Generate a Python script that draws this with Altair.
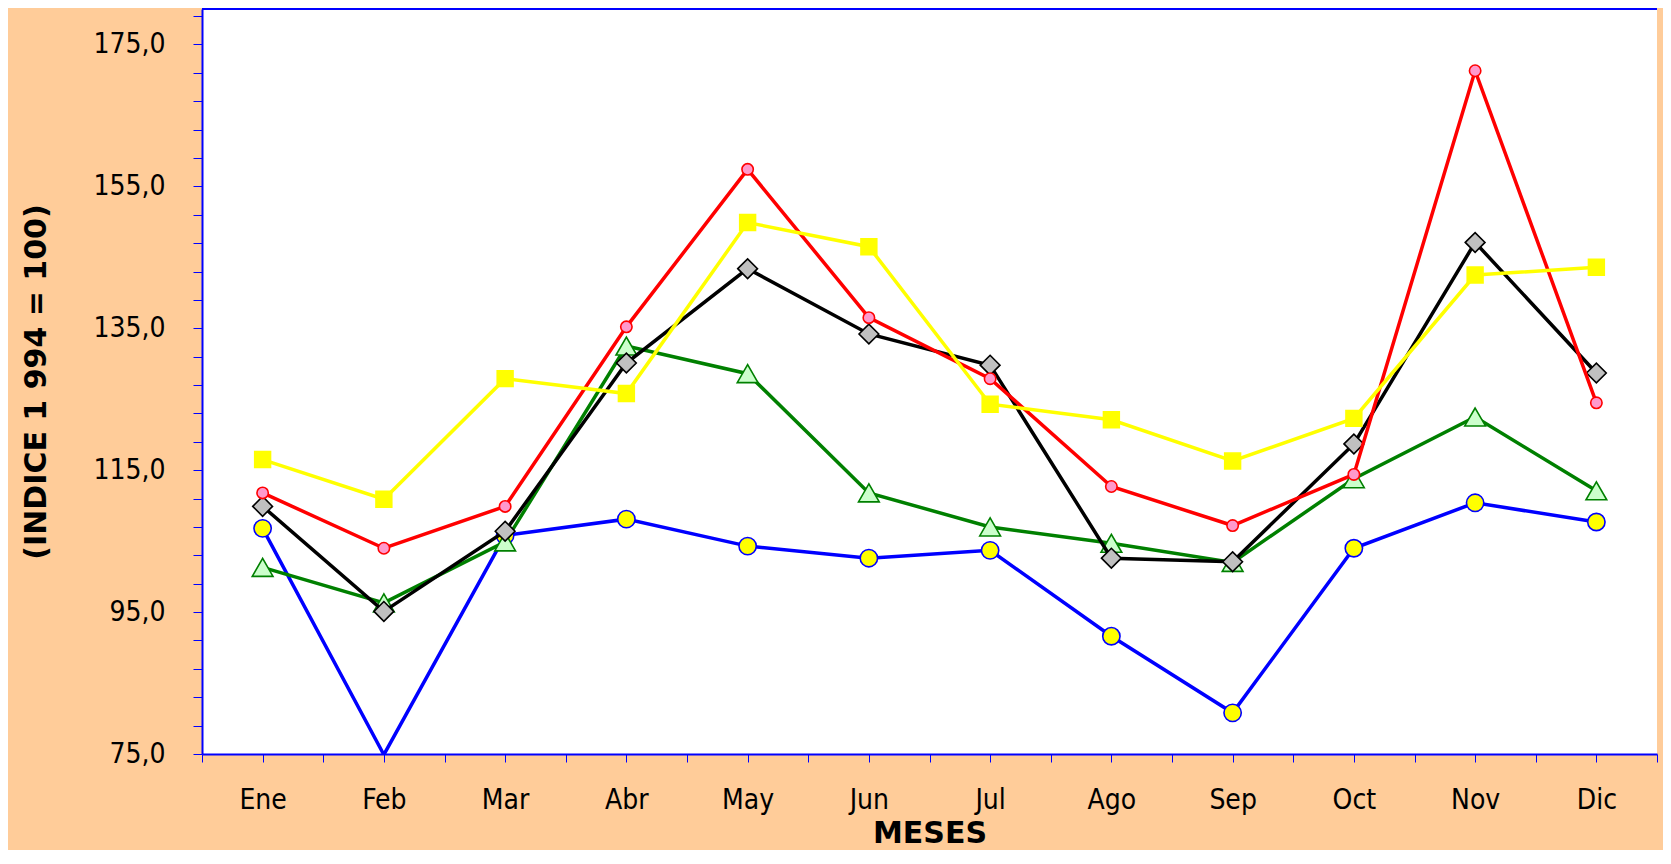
import json
import altair as alt
import pandas as pd

meses = ["Ene", "Feb", "Mar", "Abr", "May", "Jun", "Jul", "Ago", "Sep", "Oct", "Nov", "Dic"]

serie_azul = [106.8, 74.9, 105.8, 108.1, 104.3, 102.6, 103.7, 91.6, 80.8, 104.0, 110.4, 107.7]
serie_verde = [101.3, 96.3, 104.9, 132.5, 128.6, 111.8, 107.0, 104.7, 102.0, 113.8, 122.5, 112.1]
serie_negra = [109.9, 95.1, 106.4, 130.1, 143.4, 134.2, 129.8, 102.6, 102.1, 118.7, 147.1, 128.7]
serie_roja = [111.8, 104.0, 109.9, 135.2, 157.4, 136.5, 127.9, 112.7, 107.2, 114.4, 171.3, 124.5]
serie_amarilla = [116.5, 110.9, 127.9, 125.8, 149.9, 146.5, 124.3, 122.1, 116.3, 122.3, 142.5, 143.6]

y_ticks = list(range(75, 180, 4))
x_ticks = [i / 2 for i in range(1, 26)]
Y_MIN, Y_MAX = 75, 180

W, H = 1455, 745
FONT = "DejaVu Sans Condensed, DejaVu Sans, sans-serif"
BOLD_FONT = "DejaVu Sans, sans-serif"
BLUE = "#0000FF"

x_axis = alt.Axis(
    values=x_ticks,
    labelExpr="datum.value % 1 == 0 ? " + json.dumps(meses) + "[datum.value - 1] : ''",
    labelFont=FONT, labelFontSize=28, labelColor="black",
    labelBaseline="alphabetic", labelPadding=46, labelOverlap=False, labelFlush=False,
    tickSize=8, tickColor=BLUE, tickWidth=1,
    domainColor=BLUE, domainWidth=2, grid=False,
    title="MESES", titleFont=BOLD_FONT, titleFontWeight="bold", titleFontSize=30,
    titleColor="black", titleBaseline="alphabetic", titleY=88,
)
y_axis = alt.Axis(
    values=y_ticks,
    labelExpr="(datum.value - 75) % 20 == 0 ? replace(format(datum.value, '.1f'), '.', ',') : ''",
    labelFont=FONT, labelFontSize=28, labelColor="black",
    labelBaseline="middle", labelPadding=28, labelOverlap=False, labelFlush=False,
    tickSize=9, tickColor=BLUE, tickWidth=1,
    domainColor=BLUE, domainWidth=2, grid=False,
    title="(INDICE 1 994 = 100)", titleFont=BOLD_FONT, titleFontWeight="bold",
    titleFontSize=30, titleColor="black", titleAngle=270, titleBaseline="alphabetic",
    titleAlign="center", titleX=-157, titleY=H / 2,
)
x_enc = alt.X("mes:Q", scale=alt.Scale(domain=[0.5, 12.5], nice=False, zero=False), axis=x_axis)
y_enc = alt.Y("valor:Q", scale=alt.Scale(domain=[Y_MIN, Y_MAX], nice=False, zero=False), axis=y_axis)

series = [
    ("Serie 1", serie_azul, BLUE, "circle", "#FFFF00", BLUE, 300),
    ("Serie 2", serie_verde, "#008000", "triangle-up", "#CCFFCC", "#008000", 430),
    ("Serie 3", serie_negra, "#000000", "diamond", "#C0C0C0", "#000000", 390),
    ("Serie 4", serie_roja, "#FF0000", "circle", "#FF99CC", "#FF0000", 130),
    ("Serie 5", serie_amarilla, "#FFFF00", "square", "#FFFF00", "#FFFF00", 250),
]

layers = []
for name, vals, color, shape, fill, stroke, size in series:
    df = pd.DataFrame({"mes": list(range(1, len(meses) + 1)), "valor": vals, "serie": name})
    base = alt.Chart(df)
    layers.append(base.mark_line(color=color, strokeWidth=3.5, clip=True).encode(x=x_enc, y=y_enc))
    layers.append(
        base.mark_point(shape=shape, filled=True, fill=fill, stroke=stroke, strokeWidth=1.6,
                        size=size, opacity=1)
        .transform_filter(f"datum.valor >= {Y_MIN}")
        .encode(x=x_enc, y=y_enc)
    )

top_border = alt.Chart(pd.DataFrame({"a": [0]})).mark_rule(color=BLUE, strokeWidth=2).encode(
    x=alt.value(0), x2=alt.value(W), y=alt.value(0)
)
layers.append(top_border)

chart = alt.layer(*layers).properties(
    width=W, height=H,
    autosize=alt.AutoSizeParams(type="none"),
    padding={"left": 194, "top": 1, "right": 6, "bottom": 96},
    background="#FFCC99",
).configure_view(fill="white", stroke=None)

chart.save("out.html", embed_options={"renderer": "svg", "actions": False})
